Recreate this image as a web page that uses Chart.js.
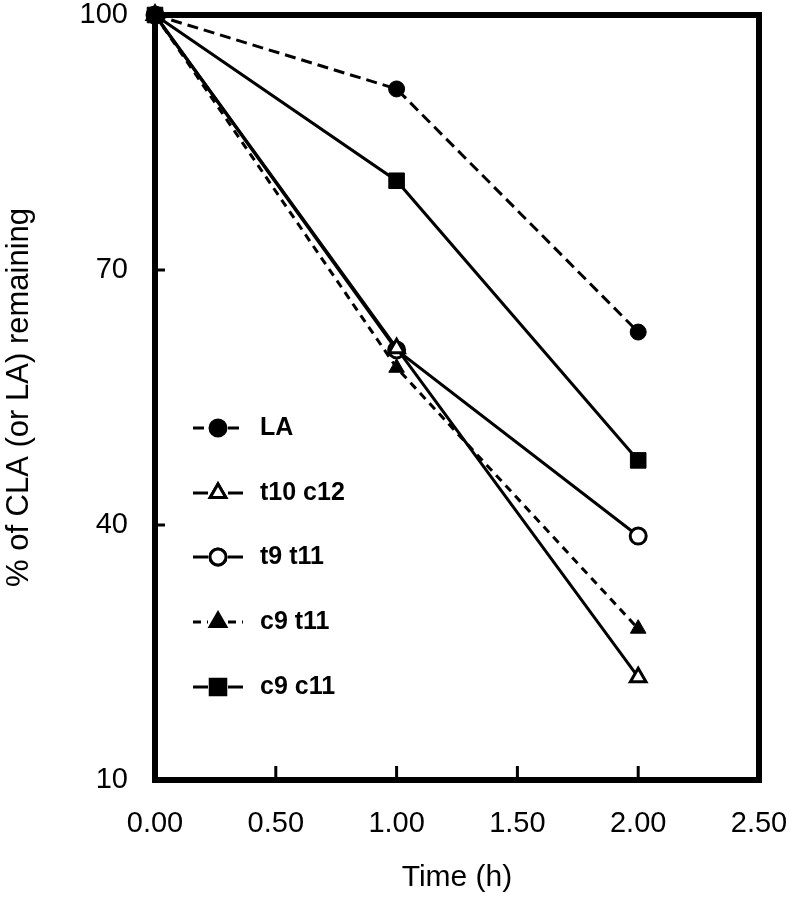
<!DOCTYPE html>
<html>
<head>
<meta charset="utf-8">
<script src="https://cdn.jsdelivr.net/npm/chart.js@4"></script>
<style>
html,body{margin:0;padding:0;background:#fff;}
#wrap{width:796px;height:904px;}
</style>
</head>
<body>
<div id="wrap"><canvas id="lossChart" width="796" height="904"></canvas></div>
<script>
// DATA
let times = [0, 1, 2];
let laValues = [100, 91.3, 62.7];
let t10c12Values = [100, 60.8, 22.1];
let t9t11Values = [100, 60.6, 38.7];
let c9t11Values = [100, 58.5, 27.8];
let c9c11Values = [100, 80.5, 47.6];
let xTicks = [0, 0.5, 1, 1.5, 2, 2.5];
let yTicks = [10, 40, 70, 100];

let FONT = "'Liberation Sans', Arial, Helvetica, sans-serif";

function pts(values){
return times.map((t,i)=>({x:t, y:values[i]}));
}

// DATASETS
let datasets = [
{label:"LA", data:pts(laValues), borderDash:[11,6], pointStyle:"circle", pointRadius:8, open:false},
{label:"t10 c12", data:pts(t10c12Values), borderDash:[], pointStyle:"triangle", pointRadius:9, open:true},
{label:"t9 t11", data:pts(t9t11Values), borderDash:[], pointStyle:"circle", pointRadius:8, open:true},
{label:"c9 t11", data:pts(c9t11Values), borderDash:[8,6], pointStyle:"triangle", pointRadius:9, open:false},
{label:"c9 c11", data:pts(c9c11Values), borderDash:[], pointStyle:"rect", pointRadius:11, open:false}
].map(d=>({
label:d.label,
data:d.data,
borderColor:"#000",
borderWidth:3,
borderDash:d.borderDash,
pointStyle:d.pointStyle,
pointRadius:d.pointRadius,
pointBackgroundColor:d.open ? "#fff" : "#000",
pointBorderColor:"#000",
pointBorderWidth:d.open ? 3 : 1,
tension:0,
fill:false,
clip:false
}));

// FRAME + INWARD TICKS
let framePlugin = {
id:"frame",
beforeDatasetsDraw(chart){
let ctx = chart.ctx;
let a = chart.chartArea;
let xs = chart.scales.x;
let ys = chart.scales.y;
ctx.save();
ctx.strokeStyle = "#000";
ctx.lineWidth = 3;
xTicks.slice(1, -1).forEach(v=>{
let px = xs.getPixelForValue(v);
ctx.beginPath();
ctx.moveTo(px, a.bottom);
ctx.lineTo(px, a.bottom - 14);
ctx.stroke();
});
yTicks.slice(1, -1).forEach(v=>{
let py = ys.getPixelForValue(v);
ctx.beginPath();
ctx.moveTo(a.left, py);
ctx.lineTo(a.left + 10, py);
ctx.stroke();
});
ctx.lineWidth = 6;
ctx.strokeRect(a.left, a.top, a.right - a.left, a.bottom - a.top);
ctx.restore();
}
};

// LEGEND
let legendRows = [428, 493, 557, 622, 687];

let legendPlugin = {
id:"boxLegend",
afterDraw(chart){
let ctx = chart.ctx;
ctx.save();
chart.data.datasets.forEach((ds,i)=>{
let y = legendRows[i];
let cx = 218;
ctx.strokeStyle = "#000";
ctx.lineWidth = 3;
ctx.setLineDash(ds.borderDash);
ctx.beginPath();
ctx.moveTo(193, y);
ctx.lineTo(cx - 10, y);
ctx.moveTo(cx + 10, y);
ctx.lineTo(243, y);
ctx.stroke();
ctx.setLineDash([]);
Chart.helpers.drawPoint(ctx, {
pointStyle:ds.pointStyle,
radius:ds.pointRadius,
borderWidth:ds.pointBorderWidth
}, cx, y);
ctx.fillStyle = ds.pointBackgroundColor;
ctx.fill();
ctx.lineWidth = ds.pointBorderWidth;
ctx.stroke();
ctx.fillStyle = "#000";
ctx.font = "bold 25px " + FONT;
ctx.textBaseline = "middle";
ctx.fillText(ds.label, 260, y);
});
ctx.restore();
}
};

// no extra room for overflowing tick labels
function noPad(s){
s.paddingTop = 0;
s.paddingBottom = 0;
s.paddingLeft = 0;
s.paddingRight = 0;
}

// CHART
new Chart(document.getElementById("lossChart"),{
type:"line",
data:{datasets:datasets},
options:{
responsive:false,
animation:false,
layout:{padding:{top:15, right:37, left:0, bottom:0}},
plugins:{
legend:{display:false},
tooltip:{enabled:false}
},
scales:{
x:{
type:"linear",
min:0,
max:2.5,
afterBuildTicks:s=>{ s.ticks = xTicks.map(v=>({value:v})); },
afterFit:s=>{ s.height = 124; noPad(s); },
grid:{display:false, drawTicks:false},
border:{display:false},
ticks:{
color:"#000",
padding:27,
font:{family:FONT, size:29},
callback:v=>Number(v).toFixed(2)
},
title:{
display:true,
text:"Time (h)",
color:"#000",
font:{family:FONT, size:30},
padding:{top:0, bottom:8}
}
},
y:{
type:"linear",
min:10,
max:100,
afterBuildTicks:s=>{ s.ticks = yTicks.map(v=>({value:v})); },
afterFit:s=>{ s.width = 155; noPad(s); },
grid:{display:false, drawTicks:false},
border:{display:false},
ticks:{
color:"#000",
padding:27,
font:{family:FONT, size:29}
},
title:{
display:true,
text:"% of CLA (or LA) remaining",
color:"#000",
font:{family:FONT, size:31},
padding:{top:1, bottom:1}
}
}
}
},
plugins:[framePlugin, legendPlugin]
});
</script>
</body>
</html>
